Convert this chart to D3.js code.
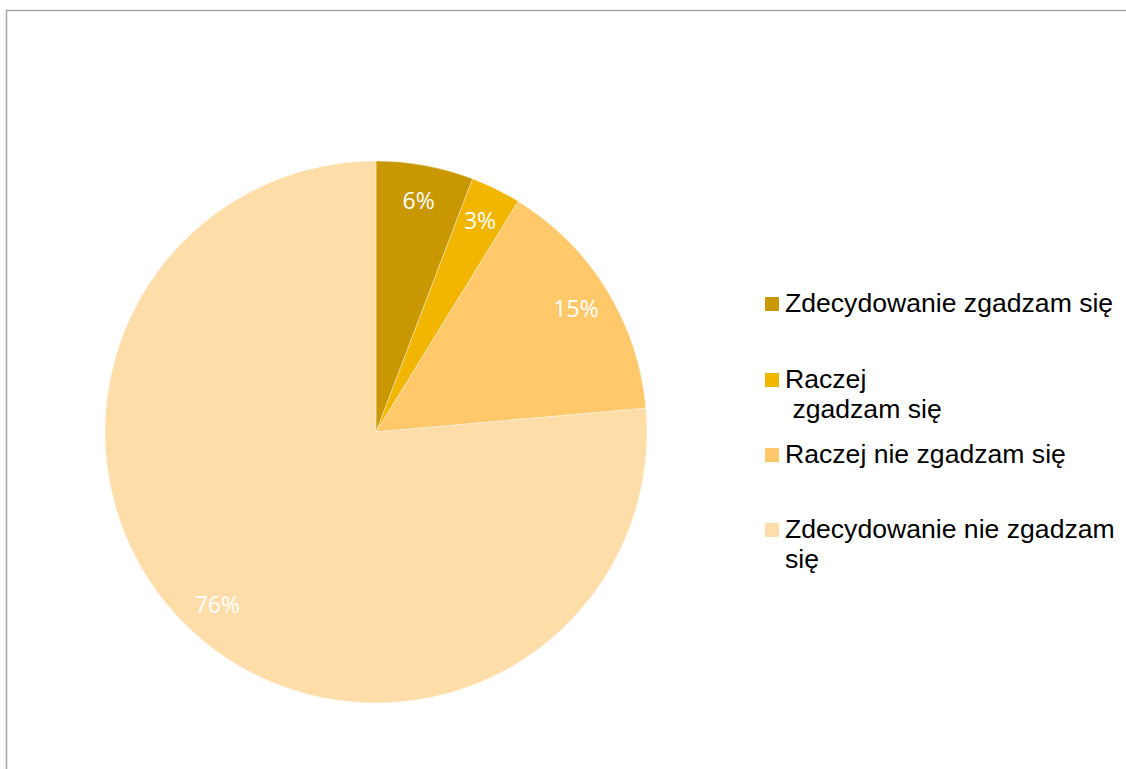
<!DOCTYPE html>
<html><head><meta charset="utf-8">
<script src="https://cdn.jsdelivr.net/npm/d3@7"></script>
<style>html,body{margin:0;padding:0;background:#fff;} text{white-space:pre;}</style>
</head><body>
<svg id="c" width="1126" height="769"></svg>
<script>
const categories = ["Zdecydowanie zgadzam się", "Raczej zgadzam się", "Raczej nie zgadzam się", "Zdecydowanie nie zgadzam się"];
const values = [5.8, 3.0, 14.8, 76.4];
const legendLines = [["Zdecydowanie zgadzam się"], ["Raczej", " zgadzam się"], ["Raczej nie zgadzam się"], ["Zdecydowanie nie zgadzam", "się"]];
const colors = ["#C99700", "#F2B500", "#FFC96B", "#FFDDA9"];

const svg = d3.select("#c");
// frame
svg.append("path").attr("d", "M6.5,769 V10.5 H1126").attr("fill", "none").attr("stroke", "#a6a6a6").attr("stroke-width", 1.5);

const cx = 376, cy = 432, r = 271;
const data = categories.map((c, i) => ({c, v: values[i], col: colors[i]}));
const pie = d3.pie().value(d => d.v).sort(null);
const arcs = pie(data);
const arc = d3.arc().innerRadius(0).outerRadius(r);
const labelArc = d3.arc().innerRadius(235).outerRadius(235);
const g = svg.append("g").attr("transform", `translate(${cx},${cy})`);
g.selectAll("path").data(arcs).join("path")
  .attr("d", arc).attr("fill", d => d.data.col)
  .attr("stroke", "#fff").attr("stroke-width", 0.6).attr("stroke-opacity", 0.6);
g.selectAll("text").data(arcs).join("text")
  .attr("transform", d => `translate(${labelArc.centroid(d)})`)
  .attr("text-anchor", "middle").attr("dy", "0.35em")
  .attr("fill", "#fff").attr("font-family", "'Open Sans', sans-serif").attr("font-size", 23)
  .text(d => Math.round(d.data.v) + "%");

// legend
const legY = [312, 388, 463, 538];
const lg = svg.append("g");
legendLines.forEach((lines, i) => {
  lg.append("rect").attr("x", 765).attr("y", legY[i] - 15).attr("width", 14).attr("height", 14).attr("fill", colors[i]);
  lines.forEach((t, j) => {
    lg.append("text").attr("x", 785).attr("y", legY[i] + j * 30)
      .attr("font-family", "'Liberation Sans', Arial, sans-serif").attr("font-size", 26.6).attr("fill", "#000")
      .text(t);
  });
});
</script>
</body></html>
